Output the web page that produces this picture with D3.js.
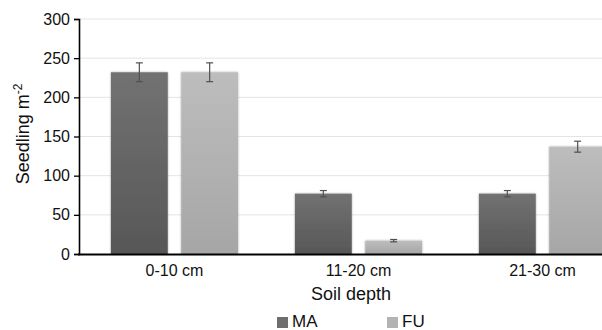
<!DOCTYPE html>
<html><head><meta charset="utf-8">
<script src="https://cdn.jsdelivr.net/npm/d3@7"></script>
<style>body{margin:0;background:#fff}svg{display:block;font-family:"Liberation Sans",Arial,sans-serif}</style>
</head><body>
<svg id="c" width="602" height="330"></svg>
<script>
const categories = ["0-10 cm", "11-20 cm", "21-30 cm"];
const seriesNames = ["MA", "FU"];
const valuesMA = [232, 77, 77];
const valuesFU = [232, 17, 137];
const errorsMA = [12, 4, 4];
const errorsFU = [12, 1.5, 7];
const yTicks = [0, 50, 100, 150, 200, 250, 300];

const svg = d3.select("#c");
const colors = {MA: ["#727272", "#575757"], FU: ["#bdbdbd", "#a6a6a6"]};
const legendColors = {MA: "#6e6e6e", FU: "#b3b3b3"};

const defs = svg.append("defs");
seriesNames.forEach(s => {
  const g = defs.append("linearGradient").attr("id", "g" + s).attr("x1", 0).attr("y1", 0).attr("x2", 0).attr("y2", 1);
  g.append("stop").attr("offset", "0%").attr("stop-color", colors[s][0]);
  g.append("stop").attr("offset", "100%").attr("stop-color", colors[s][1]);
});
const f = defs.append("filter").attr("id", "sh").attr("x", "-20%").attr("y", "-20%").attr("width", "140%").attr("height", "140%");
f.append("feGaussianBlur").attr("in", "SourceAlpha").attr("stdDeviation", 1.2).attr("result", "b");
f.append("feOffset").attr("in", "b").attr("dx", 0).attr("dy", 0).attr("result", "o");
f.append("feComponentTransfer").attr("in", "o").attr("result", "o2").append("feFuncA").attr("type", "linear").attr("slope", 0.35);
const m = f.append("feMerge");
m.append("feMergeNode").attr("in", "o2");
m.append("feMergeNode").attr("in", "SourceGraphic");

const y = d3.scaleLinear().domain([0, 300]).range([254, 19]);
const x0 = d3.scaleBand().domain(categories).range([82.5, 634.5]).paddingInner(0).paddingOuter(0);
const x1 = d3.scaleBand().domain(seriesNames).range([0, x0.bandwidth()]).paddingInner(0.1915).paddingOuter(0.404);

// gridlines
svg.append("g").selectAll("line").data(yTicks.slice(1)).join("line")
  .attr("x1", 80).attr("x2", 602).attr("y1", d => y(d)).attr("y2", d => y(d))
  .attr("stroke", "#e4e4e4").attr("stroke-width", 1);

const data = categories.map((c, i) => ({c, vals: [
  {s: "MA", v: valuesMA[i], e: errorsMA[i]},
  {s: "FU", v: valuesFU[i], e: errorsFU[i]}
]}));

const groups = svg.append("g").selectAll("g").data(data).join("g")
  .attr("transform", d => `translate(${x0(d.c)},0)`);
groups.selectAll("rect").data(d => d.vals).join("rect")
  .attr("x", d => x1(d.s)).attr("width", x1.bandwidth())
  .attr("y", d => y(d.v)).attr("height", d => y(0) - y(d.v))
  .attr("fill", d => `url(#g${d.s})`).attr("filter", "url(#sh)");

// error bars
const eb = groups.selectAll("g.eb").data(d => d.vals).join("g").attr("class", "eb")
  .attr("stroke", "#505050").attr("stroke-width", 1.2);
eb.append("line").attr("x1", d => x1(d.s) + x1.bandwidth() / 2).attr("x2", d => x1(d.s) + x1.bandwidth() / 2)
  .attr("y1", d => y(d.v + d.e)).attr("y2", d => y(d.v - d.e));
eb.append("line").attr("x1", d => x1(d.s) + x1.bandwidth() / 2 - 3.5).attr("x2", d => x1(d.s) + x1.bandwidth() / 2 + 3.5)
  .attr("y1", d => y(d.v + d.e)).attr("y2", d => y(d.v + d.e));
eb.append("line").attr("x1", d => x1(d.s) + x1.bandwidth() / 2 - 3.5).attr("x2", d => x1(d.s) + x1.bandwidth() / 2 + 3.5)
  .attr("y1", d => y(d.v - d.e)).attr("y2", d => y(d.v - d.e));

// y axis
const ya = svg.append("g").attr("transform", "translate(79,0)")
  .call(d3.axisLeft(y).tickValues(yTicks).tickSize(5).tickPadding(4));
ya.select(".domain").attr("stroke", "#000").attr("stroke-width", 1.6);
ya.selectAll(".tick line").attr("stroke", "#000").attr("stroke-width", 1.3);
ya.selectAll("text").attr("font-size", 16).attr("fill", "#111").attr("font-family", "Liberation Sans, Arial, sans-serif");

// x axis
const xa = svg.append("g").attr("transform", "translate(0,254)")
  .call(d3.axisBottom(x0).tickSize(0).tickPadding(11));
xa.select(".domain").remove();
xa.selectAll("text").attr("font-size", 16).attr("fill", "#111").attr("font-family", "Liberation Sans, Arial, sans-serif");
svg.append("line").attr("x1", 78).attr("x2", 602).attr("y1", 254.5).attr("y2", 254.5).attr("stroke", "#000").attr("stroke-width", 1.8);

// axis titles
svg.append("text").attr("x", 351).attr("y", 300).attr("text-anchor", "middle").attr("font-size", 18).attr("fill", "#111").text("Soil depth");
const yl = svg.append("text").attr("transform", "translate(29,134) rotate(-90)").attr("text-anchor", "middle").attr("font-size", 18).attr("fill", "#111");
yl.append("tspan").text("Seedling m");
yl.append("tspan").attr("font-size", 12).attr("dy", -7).text("-2");

// legend
const legX = {MA: 277, FU: 387};
const lg = svg.append("g").selectAll("g").data(seriesNames).join("g");
lg.append("rect").attr("x", d => legX[d]).attr("y", 317).attr("width", 11).attr("height", 11).attr("fill", d => legendColors[d]);
lg.append("text").attr("x", d => legX[d] + 15).attr("y", 327).attr("font-size", 17).attr("fill", "#111").text(d => d);
</script>
</body></html>
